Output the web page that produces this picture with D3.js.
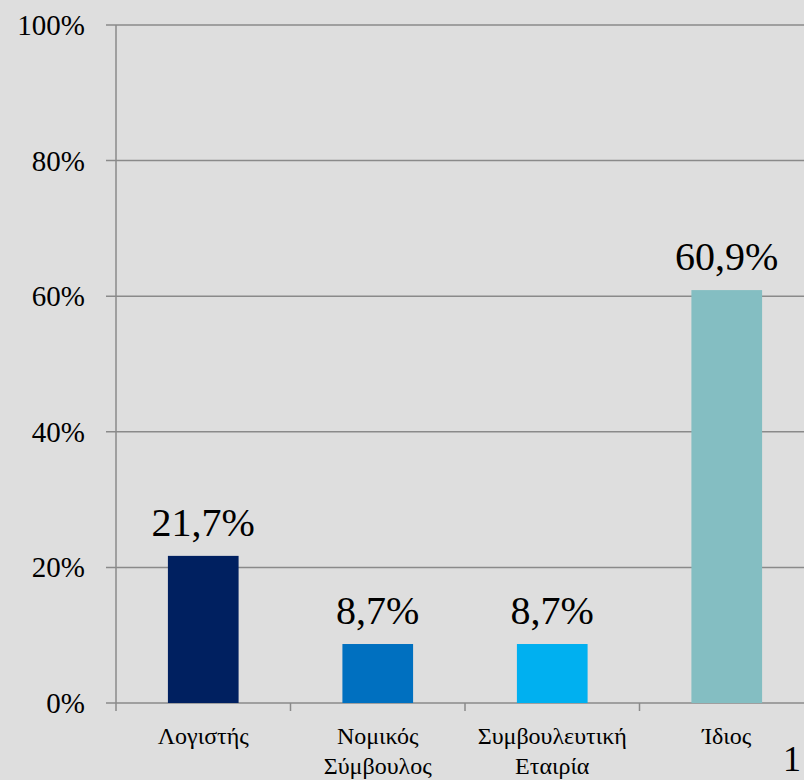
<!DOCTYPE html>
<html><head><meta charset="utf-8">
<script src="https://cdn.jsdelivr.net/npm/d3@7"></script>
<style>html,body{margin:0;padding:0;background:#dedede;}svg{display:block;}</style>
</head><body>
<svg id="c" width="804" height="780"></svg>
<script>
const categories = [["Λογιστής"], ["Νομικός","Σύμβουλος"], ["Συμβουλευτική","Εταιρία"], ["Ίδιος"]];
const values = [21.7, 8.7, 8.7, 60.9];
const valueLabels = ["21,7%", "8,7%", "8,7%", "60,9%"];
const colors = ["#002060", "#0070c0", "#00b0f0", "#84bec2"];
const yTicks = [0, 20, 40, 60, 80, 100];
const yTickLabels = ["0%", "20%", "40%", "60%", "80%", "100%"];
const pageNumber = "1";

const svg = d3.select("#c");
const font = "'Liberation Serif','Times New Roman','DejaVu Serif',serif";
svg.append("rect").attr("width", 804).attr("height", 780).attr("fill", "#dedede");

const x = d3.scaleBand().domain(d3.range(categories.length)).range([116, 814]).padding(0);
const y = d3.scaleLinear().domain([0, 100]).range([703, 25]);
const grid = "#8a8a8a";

svg.append("g").selectAll("line").data(yTicks).join("line")
  .attr("x1", 106).attr("x2", 804)
  .attr("y1", d => y(d)).attr("y2", d => y(d))
  .attr("stroke", grid).attr("stroke-width", 1.5);
svg.append("g").selectAll("text").data(yTicks).join("text")
  .attr("x", 85).attr("y", d => y(d) + 10)
  .attr("text-anchor", "end").style("font-family", font).attr("font-size", 29).attr("fill", "#000")
  .text((d, i) => yTickLabels[i]);
svg.append("line").attr("x1", 116).attr("x2", 116).attr("y1", y(100)).attr("y2", 711)
  .attr("stroke", grid).attr("stroke-width", 1.5);
svg.append("g").selectAll("line").data(d3.range(1, categories.length + 1)).join("line")
  .attr("x1", d => 116 + d * x.step()).attr("x2", d => 116 + d * x.step())
  .attr("y1", 703).attr("y2", 711).attr("stroke", grid).attr("stroke-width", 1.5);

const bw = x.bandwidth() * 0.405;
svg.append("g").selectAll("rect").data(values).join("rect")
  .attr("x", (d, i) => x(i) + x.bandwidth() / 2 - bw / 2)
  .attr("width", bw)
  .attr("y", d => y(d)).attr("height", d => y(0) - y(d))
  .attr("fill", (d, i) => colors[i]);

svg.append("g").selectAll("text").data(values).join("text")
  .attr("x", (d, i) => x(i) + x.bandwidth() / 2)
  .attr("y", d => y(d) - 20)
  .attr("text-anchor", "middle").style("font-family", font).attr("font-size", 40).attr("fill", "#000")
  .text((d, i) => valueLabels[i]);

const cl = svg.append("g").selectAll("text").data(categories).join("text")
  .attr("text-anchor", "middle").style("font-family", font).attr("font-size", 24).attr("fill", "#000");
cl.each(function(lines, i) {
  d3.select(this).selectAll("tspan").data(lines).join("tspan")
    .attr("x", x(i) + x.bandwidth() / 2)
    .attr("y", (l, j) => 744 + j * 30)
    .text(l => l);
});

svg.append("text").attr("x", 783).attr("y", 771).style("font-family", font).attr("font-size", 36)
  .attr("fill", "#000").text(pageNumber);
</script>
</body></html>
